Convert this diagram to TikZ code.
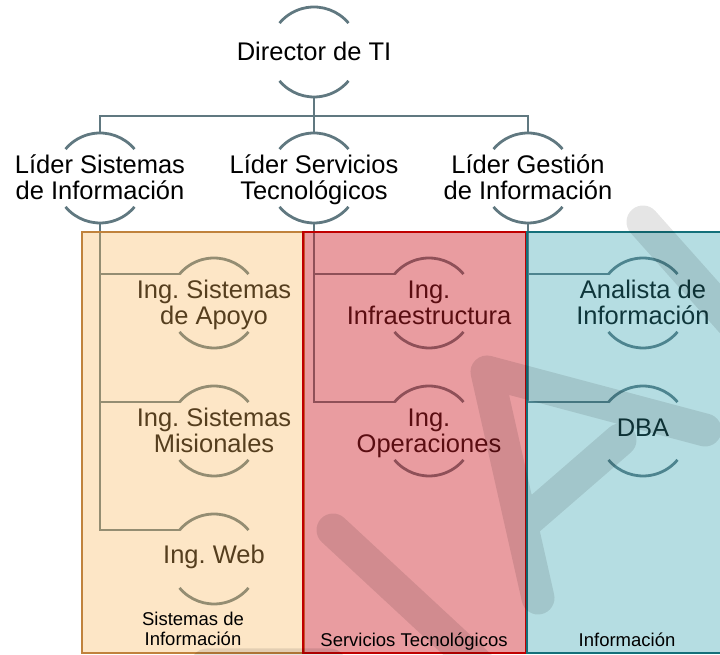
\documentclass[tikz,border=0pt]{standalone}
\usepackage{fontspec}
\setmainfont{Liberation Sans}
\frenchspacing
\definecolor{conn}{RGB}{96,120,128}
\definecolor{ofill}{RGB}{250,182,88}
\definecolor{oline}{RGB}{192,130,60}
\definecolor{rfill}{RGB}{205,30,39}
\definecolor{rline}{RGB}{192,0,0}
\definecolor{tfill}{RGB}{43,157,171}
\definecolor{tline}{RGB}{20,112,122}
\newcommand\topstrut{\rule{0pt}{24pt}}
\newcommand\botstrut{\rule[-6pt]{0pt}{6pt}}
\newcommand\stopstrut{\rule{0pt}{18pt}}
\newcommand\sbotstrut{\rule[-4.5pt]{0pt}{4.5pt}}
\begin{document}
\begin{tikzpicture}[x=1pt,y=1pt,
  ring/.style={circle,minimum size=90pt,inner sep=0pt,outer sep=0pt},
  ntext/.style={align=center,inner sep=0pt,font=\fontsize{25.5}{26}\selectfont},
  arcline/.style={draw=conn,line width=2.8pt},
  conline/.style={draw=conn,line width=2.8pt},
  colbox/.style={line width=2pt},
  collabel/.style={align=center,inner sep=0pt,font=\fontsize{18.5}{20}\selectfont},
  wmark/.style={draw=black,draw opacity=0.1,line width=33pt,line cap=round,line join=round}
]
\useasboundingbox (0,0) rectangle (720,655);
\clip (0,0) rectangle (720,655);

% rings (circle positions)
\node[ring] (dir) at (314,603) {};
\node[ring] (l1) at (100,477) {};
\node[ring] (l2) at (314,477) {};
\node[ring] (l3) at (528,477) {};
\node[ring] (o1) at (214,352) {};
\node[ring] (o2) at (214,224) {};
\node[ring] (o3) at (214,96) {};
\node[ring] (r1) at (429,352) {};
\node[ring] (r2) at (429,224) {};
\node[ring] (t1) at (643,352) {};
\node[ring] (t2) at (643,224) {};

\foreach \n in {dir,l1,l2,l3,o1,o2,o3,r1,r2,t1,t2}{
  \draw[arcline] (\n.40) arc[start angle=40,end angle=140,radius=45pt];
  \draw[arcline] (\n.220) arc[start angle=220,end angle=320,radius=45pt];
}

% texts
\node[ntext] (dirt) at (dir) {\topstrut\botstrut Director de TI};
\node[ntext] (l1t) at (l1) {\topstrut Líder Sistemas\\de Información\botstrut};
\node[ntext] (l2t) at (l2) {\topstrut Líder Servicios\\Tecnológicos\botstrut};
\node[ntext] (l3t) at (l3) {\topstrut Líder Gestión\\de Información\botstrut};
\node[ntext] (o1t) at (o1) {\topstrut Ing. Sistemas\\de Apoyo\botstrut};
\node[ntext] (o2t) at (o2) {\topstrut Ing. Sistemas\\Misionales\botstrut};
\node[ntext,yshift=4pt] (o3t) at (o3) {\topstrut\botstrut Ing. Web};
\node[ntext] (r1t) at (r1) {\topstrut Ing.\\Infraestructura\botstrut};
\node[ntext] (r2t) at (r2) {\topstrut Ing.\\Operaciones\botstrut};
\node[ntext] (t1t) at (t1) {\topstrut Analista de\\Información\botstrut};
\node[ntext,yshift=3pt] (t2t) at (t2) {\topstrut\botstrut DBA};

% connectors
\coordinate (bus) at (0,539);
\draw[conline] (dir.south) -- (dir.south |- bus);
\draw[conline] (l1.north) |- (bus -| l3.north) -- (l3.north);
\draw[conline] (l2.north) -- (l2.north |- bus);
\draw[conline] (l1.south) |- (o1.140);
\draw[conline] (l1.south) |- (o2.140);
\draw[conline] (l1.south) |- (o3.140);
\draw[conline] (l2.south) |- (r1.140);
\draw[conline] (l2.south) |- (r2.140);
\draw[conline] (l3.south) |- (t1.140);
\draw[conline] (l3.south) |- (t2.140);

% column boxes (translucent overlays)
\fill[ofill,fill opacity=0.34] (82,1.5) rectangle (304,423);
\draw[oline,colbox] (82,1.5) rectangle (304,423);
\fill[rfill,fill opacity=0.44] (303,1.5) rectangle (526,423);
\draw[rline,colbox] (303,1.5) rectangle (526,423);
\fill[tfill,fill opacity=0.35] (527,1.5) rectangle (740,423);
\draw[tline,colbox] (527,1.5) rectangle (740,423);

% column labels
\node[collabel] (lab1) at (193,26.5) {\stopstrut Sistemas de\\Información\sbotstrut};
\node[collabel] (lab2) at (414,15.5) {\stopstrut\sbotstrut Servicios Tecnológicos};
\node[collabel] (lab3) at (627,15.5) {\stopstrut\sbotstrut Información};

% watermark (single path, so overlaps are not darkened twice)
\draw[wmark] (333,125) -- (500,-30)
  (705,225) -- (487,283) -- (538,57)
  (522,130) -- (620,215)
  (643,433) -- (790,268)
  (207,-10) -- (330,-10);
\end{tikzpicture}
\end{document}
